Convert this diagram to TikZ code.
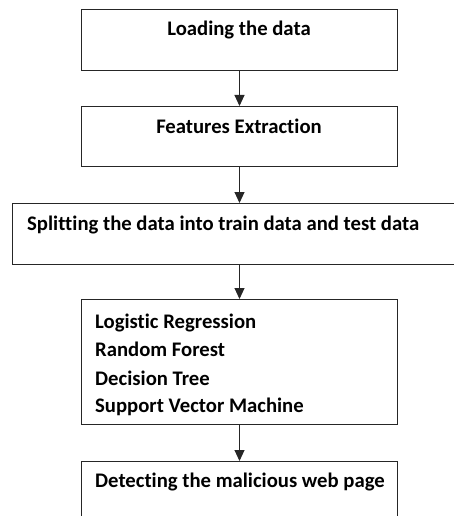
\documentclass[tikz,border=0pt]{standalone}
\usepackage{fontspec}
\setmainfont{Carlito}[Ligatures=NoCommon]
\usetikzlibrary{arrows.meta}
\begin{document}
\begin{tikzpicture}[x=1pt,y=-1pt,
  box/.style={draw=black!85, line width=1pt, fill=white, inner sep=0pt, anchor=north west},
  lbl/.style={font=\fontsize{20.7}{24}\selectfont\bfseries, inner sep=0pt, text=black},
  flow/.style={draw=black!85, line width=1pt, -{Triangle[width=10pt,length=11pt]}}]
\useasboundingbox (0,0) rectangle (454,516);
\clip (0,0) rectangle (454,516);
\node[box, minimum width=316pt, minimum height=61pt] (b1) at (81,9) {};
\node[box, minimum width=316pt, minimum height=60pt] (b2) at (81,106) {};
\node[box, minimum width=460pt, minimum height=61pt] (b3) at (12,203) {};
\node[box, minimum width=316pt, minimum height=125pt] (b4) at (81,299) {};
\node[box, minimum width=316pt, minimum height=80pt] (b5) at (81,461) {};
\draw[flow] (b1.south) -- (b2.north);
\draw[flow] (b2.south) -- (b2.south |- b3.north);
\draw[flow] (b4.north |- b3.south) -- (b4.north);
\draw[flow] (b4.south) -- (b5.north);
\node[lbl, anchor=base] (t1) at (239,36) {Loading the data};
\node[lbl, anchor=base] (t2) at (239,133) {Features Extraction};
\node[lbl, anchor=base west] (t3) at (27,230) {Splitting the data into train data and test data};
\node[lbl, anchor=base west] (t4a) at (95,328) {Logistic Regression};
\node[lbl, anchor=base west] (t4b) at (95,356) {Random Forest};
\node[lbl, anchor=base west] (t4c) at (95,385) {Decision Tree};
\node[lbl, anchor=base west] (t4d) at (95,412) {Support Vector Machine};
\node[lbl, anchor=base west] (t5) at (95,487) {Detecting the malicious web page};
\end{tikzpicture}
\end{document}
